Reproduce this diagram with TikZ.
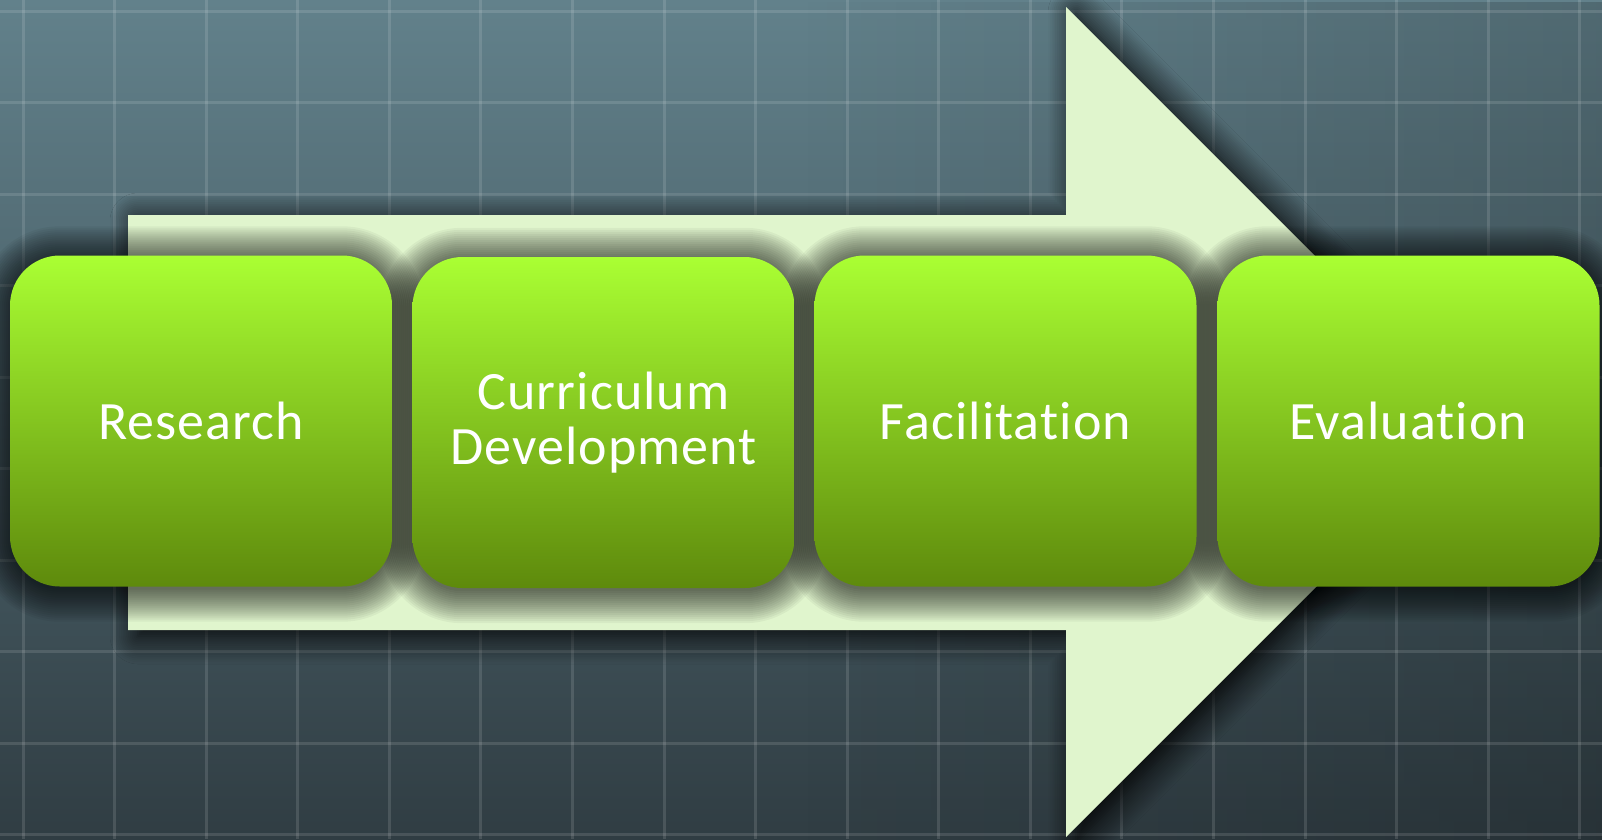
\documentclass[tikz,border=0pt]{standalone}
\usepackage{fontspec}
\setmainfont{Carlito}[Ligatures={NoCommon,NoRequired,NoContextual},LetterSpace=2]
\usetikzlibrary{shadows.blur,fadings}
\definecolor{bgtop}{HTML}{62818B}
\definecolor{bgmid}{HTML}{4A5F68}
\definecolor{bgbot}{HTML}{303D43}
\definecolor{arrowfill}{HTML}{E0F5CD}
\definecolor{boxtop}{HTML}{AAFF33}
\definecolor{boxmid}{HTML}{86C417}
\definecolor{boxbot}{HTML}{5E8A0C}
\pgfdeclarelayer{back}
\pgfdeclarelayer{shadowlayer}
\pgfsetlayers{back,shadowlayer,main}
\tikzset{
  gridline/.style={white, opacity=0.12, line width=3pt},
  stepbox/.style={
    minimum width=382pt, minimum height=331pt,
    rounded corners=50pt, inner sep=0pt,
    top color=boxtop, middle color=boxmid, bottom color=boxbot,
    text=white, align=center,
    font=\fontsize{54}{55}\selectfont
  },
  boxshade/.style={fill=black, opacity=0.045},
  bigarrow/.style={
    fill=arrowfill,
    blur shadow={shadow xshift=10pt, shadow yshift=-6pt, shadow blur radius=28pt, shadow opacity=100, shadow blur steps=16}
  }
}
\begin{document}
\begin{tikzpicture}[x=1pt,y=-1pt]
\useasboundingbox (0,0) rectangle (1602,839);
% boxes
\node[stepbox] (research) at (201,421) {Research};
\node[stepbox] (curriculum) at (603.5,422.5) {Curriculum\\Development};
\node[stepbox] (facilitation) at (1005.5,421) {Facilitation};
\node[stepbox] (evaluation) at (1408.5,421) {Evaluation};
\begin{pgfonlayer}{back}
% background
\shade[top color=bgtop, middle color=bgmid, bottom color=bgbot] (0,0) rectangle (1602,839);
\fill[black, opacity=0.18, path fading=west] (801,0) rectangle (1602,839);
% grid
\foreach \i in {0,...,17} \draw[gridline] ({23+91.57*\i},0) -- ++(0,839);
\foreach \j in {0,...,9} \draw[gridline] (0,{11+91.5*\j}) -- ++(1602,0);
% arrow
\path[bigarrow] (128,215) -- (1066,215) -- (1066,7) -- (1481,422) -- (1066,837) -- (1066,630) -- (128,630) -- cycle;
\end{pgfonlayer}
\begin{pgfonlayer}{shadowlayer}
\foreach \n in {research,curriculum,facilitation,evaluation}{
  \foreach \e in {0,2,...,32}{
    \pgfmathsetmacro\rr{50+\e}
    \fill[boxshade, rounded corners=\rr pt]
      ([xshift=-\e pt,yshift={\e pt-3pt}]\n.north west) rectangle
      ([xshift=\e pt,yshift={-\e pt-3pt}]\n.south east);
  }
}
\end{pgfonlayer}
\end{tikzpicture}
\end{document}
